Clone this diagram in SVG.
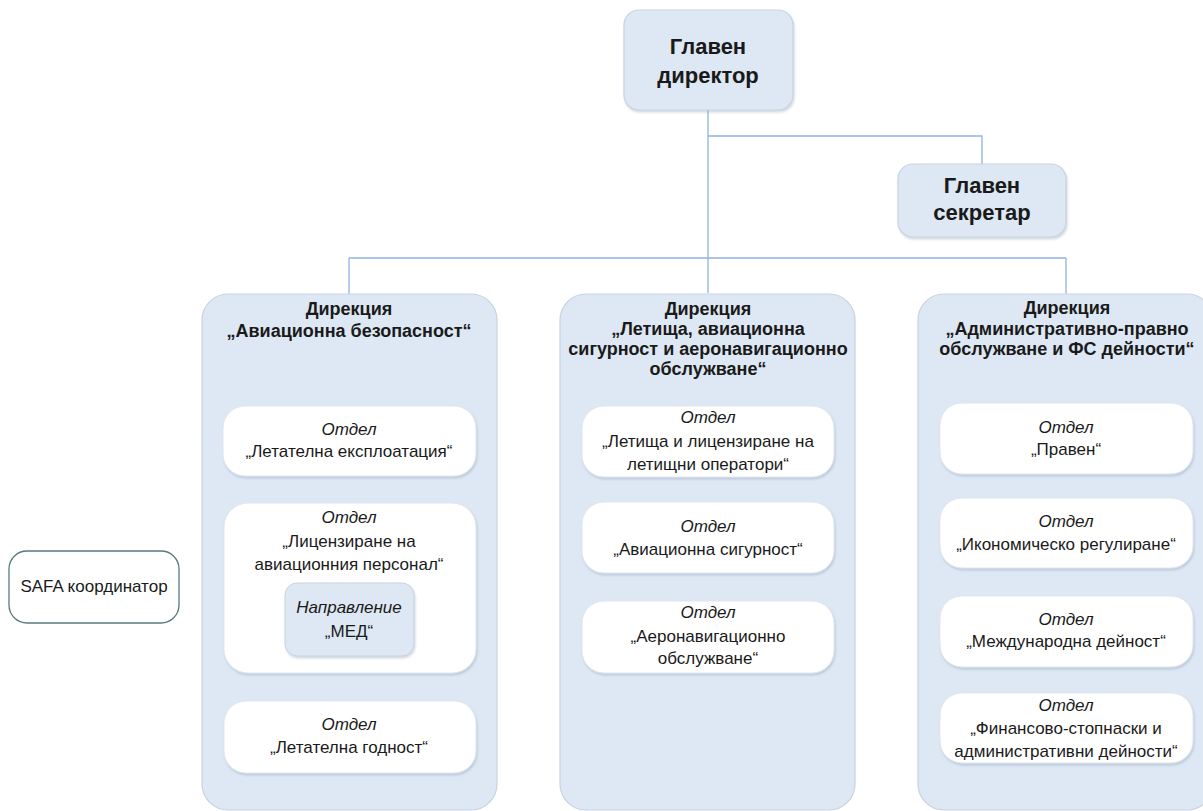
<svg xmlns="http://www.w3.org/2000/svg" width="1203" height="811" viewBox="0 0 1203 811">
<defs>
<filter id="sh" x="-10%" y="-10%" width="120%" height="130%">
<feDropShadow dx="1" dy="2" stdDeviation="1.2" flood-color="#7f93ad" flood-opacity="0.35"/>
</filter>
<style>
.top{fill:#dde8f4;stroke:#c8d3e0;stroke-width:1.2;filter:url(#sh)}
.dir{fill:#dde8f4;stroke:#c8d3e0;stroke-width:1.2}
.dept{fill:#ffffff;stroke:#e0e6ee;stroke-width:1;filter:url(#sh)}
.med{fill:#dde8f4;stroke:#c8d3e0;stroke-width:1;filter:url(#sh)}
.safa{fill:#ffffff;stroke:#5a7a7a;stroke-width:1.3}
.conn{fill:none;stroke:#8db3e2;stroke-width:1.3}
text{font-family:"Liberation Sans",Arial,sans-serif;fill:#1a1a1a;text-anchor:middle}
.tt{font-size:22px;font-weight:bold}
.dt{font-size:18px;font-weight:bold}
.it{font-size:17px;font-style:italic}
.nt{font-size:17px}
</style>
</defs>
<g id="connectors">
<path class="conn" d="M708 110 V293"/>
<path class="conn" d="M708 136 H982 V164"/>
<path class="conn" d="M349 258 H1066"/>
<path class="conn" d="M349 258 V294"/>
<path class="conn" d="M1066 258 V294"/>
</g>
<g id="n-director">
<rect class="top" x="624" y="10" width="169" height="100" rx="15"/>
<text class="tt" x="708" y="54">Главен</text>
<text class="tt" x="708" y="83">директор</text>
</g>
<g id="n-secretary">
<rect class="top" x="898" y="164" width="168" height="73" rx="15"/>
<text class="tt" x="982" y="193">Главен</text>
<text class="tt" x="982" y="220">секретар</text>
</g>
<g id="n-safa">
<rect class="safa" x="9" y="551" width="170" height="72" rx="18"/>
<text class="nt" x="94" y="592">SAFA координатор</text>
</g>
<g id="n-dir1">
<rect class="dir" x="202" y="294" width="295" height="516" rx="26"/>
<text class="dt" x="349" y="315">Дирекция</text>
<text class="dt" x="349" y="337">„Авиационна безопасност“</text>
</g>
<g id="n-d1-1">
<rect class="dept" x="223" y="406" width="253" height="70" rx="22"/>
<text class="it" x="349" y="435">Отдел</text>
<text class="nt" x="349" y="457">„Летателна експлоатация“</text>
</g>
<g id="n-d1-2">
<rect class="dept" x="224" y="503" width="252" height="170" rx="24"/>
<text class="it" x="349" y="523">Отдел</text>
<text class="nt" x="349" y="547">„Лицензиране на</text>
<text class="nt" x="349" y="570">авиационния персонал“</text>
</g>
<g id="n-med">
<rect class="med" x="285" y="583" width="129" height="73" rx="12"/>
<text class="it" x="349" y="613">Направление</text>
<text class="nt" x="349" y="637">„МЕД“</text>
</g>
<g id="n-d1-3">
<rect class="dept" x="224" y="701" width="252" height="72" rx="22"/>
<text class="it" x="349" y="730">Отдел</text>
<text class="nt" x="349" y="753">„Летателна годност“</text>
</g>
<g id="n-dir2">
<rect class="dir" x="560" y="294" width="295" height="516" rx="26"/>
<text class="dt" x="708" y="315">Дирекция</text>
<text class="dt" x="708" y="335">„Летища, авиационна</text>
<text class="dt" x="708" y="355">сигурност и аеронавигационно</text>
<text class="dt" x="708" y="375">обслужване“</text>
</g>
<g id="n-d2-1">
<rect class="dept" x="582" y="406" width="252" height="71" rx="22"/>
<text class="it" x="708" y="423">Отдел</text>
<text class="nt" x="708" y="447">„Летища и лицензиране на</text>
<text class="nt" x="708" y="470">летищни оператори“</text>
</g>
<g id="n-d2-2">
<rect class="dept" x="582" y="502" width="252" height="71" rx="22"/>
<text class="it" x="708" y="532">Отдел</text>
<text class="nt" x="708" y="555">„Авиационна сигурност“</text>
</g>
<g id="n-d2-3">
<rect class="dept" x="582" y="601" width="252" height="72" rx="22"/>
<text class="it" x="708" y="618">Отдел</text>
<text class="nt" x="708" y="642">„Аеронавигационно</text>
<text class="nt" x="708" y="664">обслужване“</text>
</g>
<g id="n-dir3">
<rect class="dir" x="918" y="294" width="295" height="516" rx="26"/>
<text class="dt" x="1067" y="314">Дирекция</text>
<text class="dt" x="1067" y="335">„Административно-правно</text>
<text class="dt" x="1067" y="355">обслужване и ФС дейности“</text>
</g>
<g id="n-d3-1">
<rect class="dept" x="940" y="403" width="253" height="71" rx="22"/>
<text class="it" x="1066" y="433">Отдел</text>
<text class="nt" x="1066" y="455">„Правен“</text>
</g>
<g id="n-d3-2">
<rect class="dept" x="940" y="498" width="253" height="70" rx="22"/>
<text class="it" x="1066" y="527">Отдел</text>
<text class="nt" x="1066" y="550">„Икономическо регулиране“</text>
</g>
<g id="n-d3-3">
<rect class="dept" x="940" y="596" width="253" height="71" rx="22"/>
<text class="it" x="1066" y="625">Отдел</text>
<text class="nt" x="1066" y="647">„Международна дейност“</text>
</g>
<g id="n-d3-4">
<rect class="dept" x="940" y="693" width="253" height="70" rx="22"/>
<text class="it" x="1066" y="711">Отдел</text>
<text class="nt" x="1066" y="734">„Финансово-стопнаски и</text>
<text class="nt" x="1066" y="757">административни дейности“</text>
</g>
</svg>
